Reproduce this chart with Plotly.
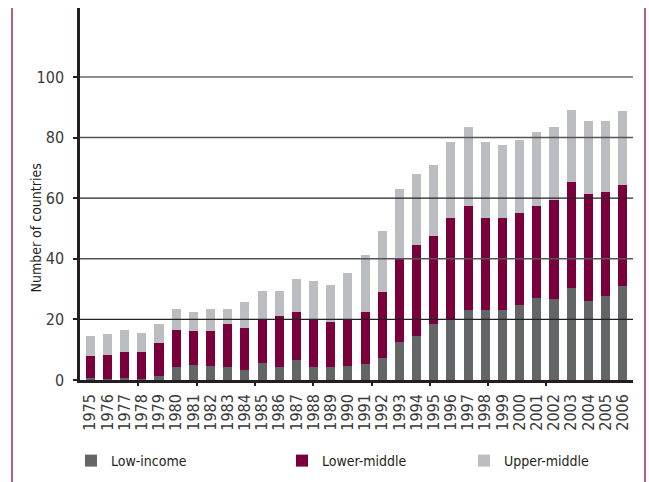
import plotly.graph_objects as go

years = [str(y) for y in range(1975, 2007)]

low_income = [0.6, 0.3, 0.6, 0.3, 1.2, 4.2, 5.1, 4.5, 4.2, 3.2,
              5.6, 4.3, 6.6, 4.3, 4.3, 4.6, 5.2, 7.4, 12.7, 14.6,
              18.6, 20.0, 23.2, 23.2, 23.2, 24.8, 27.1, 26.8, 30.4, 26.2,
              27.8, 31.1]
lower_middle = [7.2, 8.1, 8.8, 9.1, 11.1, 12.4, 11.2, 11.8, 14.4, 14.1,
                14.5, 16.7, 15.9, 15.8, 15.0, 15.5, 17.3, 21.8, 27.5, 29.9,
                28.9, 33.5, 34.3, 30.3, 30.3, 30.4, 30.4, 32.7, 35.0, 35.2,
                34.3, 33.3]
upper_middle = [6.8, 6.9, 7.2, 6.2, 6.3, 6.9, 6.2, 7.2, 4.9, 8.5,
                9.3, 8.4, 10.9, 12.6, 12.1, 15.2, 18.7, 19.9, 23.0, 23.6,
                23.3, 25.1, 26.0, 25.1, 24.1, 24.0, 24.4, 24.0, 23.7, 24.1,
                23.4, 24.4]

y_ticks = [0, 20, 40, 60, 80, 100]

FONT = "DejaVu Sans Condensed, Liberation Sans Narrow, sans-serif"
W, H = 649, 482
ML, MR, MT, MB = 80, 16, 8, 102
PW = W - ML - MR
PH = H - MT - MB

def px_x(px):
    return (px - ML) / PW

def px_y(py):
    return (H - MB - py) / PH

fig = go.Figure()
fig.add_trace(go.Bar(x=years, y=low_income, name="Low-income",
                     marker=dict(color="#646567", line=dict(width=0)), legend="legend"))
fig.add_trace(go.Bar(x=years, y=lower_middle, name="Lower-middle",
                     marker=dict(color="#7a003c", line=dict(width=0)), legend="legend2"))
fig.add_trace(go.Bar(x=years, y=upper_middle, name="Upper-middle",
                     marker=dict(color="#bcbdc0", line=dict(width=0)), legend="legend3"))
# overlay axis only for the x tick marks
fig.add_trace(go.Scatter(x=[0], y=[0], xaxis="x2", yaxis="y", mode="markers",
                         marker=dict(opacity=0), showlegend=False, hoverinfo="skip"))

shapes = []
for i, v in enumerate(y_ticks[1:]):
    dark = (i % 2 == 0)
    shapes.append(dict(type="line", xref="paper", yref="y", x0=0, x1=1, y0=v, y1=v,
                       layer="above",
                       line=dict(color="#222222" if dark else "#555555",
                                 width=1.2 if dark else 1.5)))
# decorative side rules
for xp in (12, 645):
    shapes.append(dict(type="line", xref="paper", yref="paper",
                       x0=px_x(xp), x1=px_x(xp), y0=px_y(H), y1=px_y(8),
                       line=dict(color="#9b2a66", width=1.5), layer="above"))

leg_common = dict(orientation="h", yanchor="middle", xanchor="left",
                  font=dict(family=FONT, size=14, color="#231f20"),
                  bgcolor="rgba(0,0,0,0)", itemwidth=30)

fig.update_layout(
    width=W, height=H,
    margin=dict(l=ML, r=MR, t=MT, b=MB, pad=0, autoexpand=False),
    paper_bgcolor="white", plot_bgcolor="white",
    barmode="stack", bargap=0.475,
    font=dict(family=FONT, color="#333333"),
    xaxis=dict(type="category", range=[-0.6, 31.6], showgrid=False,
               tickmode="array", tickvals=years, ticktext=years,
               showline=True, linecolor="#231f20", linewidth=2.5,
               ticks="outside", ticklen=5, tickcolor="rgba(0,0,0,0)",
               tickangle=-90, tickfont=dict(family=FONT, size=16, color="#3a3a3a"),
               layer="above traces", zeroline=False, automargin=False),
    xaxis2=dict(overlaying="x", side="bottom", range=[0, PW / 58.3],
                tickvals=[1, 2, 3, 4, 5, 6, 7, 8], showticklabels=False,
                ticks="outside", ticklen=5, tickwidth=2, tickcolor="#231f20",
                showgrid=False, zeroline=False, showline=False),
    yaxis=dict(range=[0, (H - MB - MT) / 3.03], tickvals=y_ticks,
               showgrid=False, zeroline=False, automargin=False,
               showline=True, linecolor="#231f20", linewidth=2.5,
               ticks="outside", ticklen=4, tickwidth=2, tickcolor="#231f20",
               ticklabelstandoff=6,
               tickfont=dict(family=FONT, size=16, color="#3a3a3a"),
               layer="above traces"),
    shapes=shapes,
    annotations=[dict(text="Number of countries", xref="paper", yref="y",
                      x=px_x(35), y=50, xanchor="center", yanchor="middle",
                      showarrow=False, textangle=-90,
                      font=dict(family=FONT, size=14, color="#231f20"))],
    legend=dict(x=px_x(71), y=px_y(461), **leg_common),
    legend2=dict(x=px_x(282), y=px_y(461), **leg_common),
    legend3=dict(x=px_x(464), y=px_y(461), **leg_common),
)

fig.write_html("out.html", config={"displayModeBar": False},
               post_script="document.body.style.margin='0';document.body.style.padding='0';")
